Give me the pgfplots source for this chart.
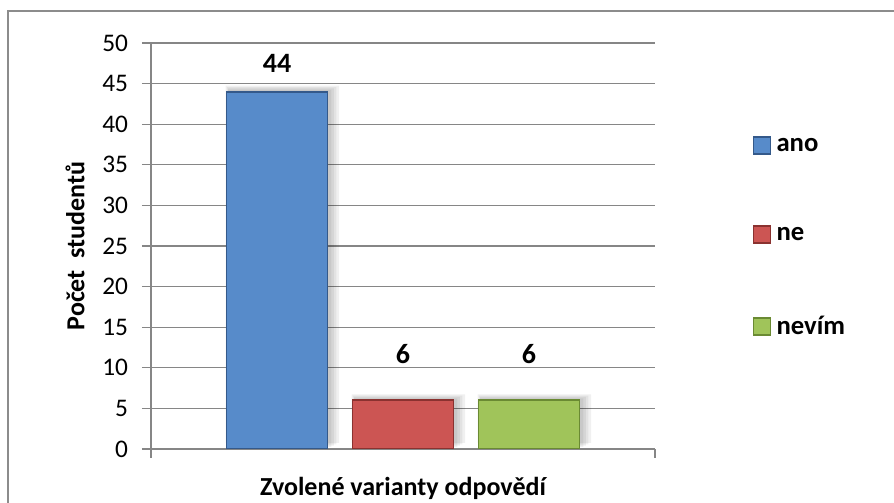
\documentclass[border=0pt]{standalone}
\usepackage{pgfplots}
\pgfplotsset{compat=1.18}
\usepackage{fontspec}
\setmainfont{Carlito}
\definecolor{gridgray}{HTML}{868686}
\definecolor{frameg}{HTML}{8C8C8C}
\definecolor{cblue}{HTML}{578BCA}
\definecolor{dblue}{HTML}{34598A}
\definecolor{cred}{HTML}{CC5553}
\definecolor{dred}{HTML}{8A3230}
\definecolor{cgreen}{HTML}{A0C45A}
\definecolor{dgreen}{HTML}{6A8A33}
\pgfplotsset{
  shadowbar/.style={forget plot, fill=black, draw=none, fill opacity=0.06},
}
\begin{document}
\begin{tikzpicture}
\useasboundingbox (0,0) rectangle (670.5pt,377.25pt);
\draw[frameg, line width=1pt] (6pt,-5pt) -- (6pt,369pt) -- (680pt,369pt);
\begin{axis}[
  at={(113.25pt,40.5pt)}, anchor=south west,
  scale only axis, width=378pt, height=304.5pt,
  xmin=0, xmax=4, ymin=0, ymax=50,
  ytick={0,5,...,50},
  xtick={0,4}, xticklabels={},
  ymajorgrids, grid style={gridgray, line width=0.8pt},
  axis line style={gridgray, line width=0.8pt},
  tick style={gridgray, line width=0.8pt},
  tick align=outside, major tick length=6.75pt,
  axis x line*=bottom, axis y line*=left,
  /pgf/number format/assume math mode=true,
  tick label style={font=\fontsize{19}{22}\selectfont, text=black},
  yticklabel style={xshift=-7pt},
  xlabel={Zvolené varianty odpovědí},
  ylabel={Počet\ \ studentů},
  every axis x label/.style={at={(axis description cs:0.5,-0.096)}, anchor=center, font=\bfseries\fontsize{19.5}{22}\selectfont},
  every axis y label/.style={at={(axis description cs:-0.1508,0.5)}, rotate=90, anchor=center, font=\bfseries\fontsize{19.5}{22}\selectfont},
  ybar, bar width=0.8, bar shift=0pt,
  legend style={draw=none, fill=none, at={(axis description cs:1,0.5)}, anchor=west, xshift=70pt, yshift=6.5pt,
     font=\bfseries\fontsize{20}{23}\selectfont, row sep=51.5pt, legend cell align=left,
     nodes={inner xsep=4pt}},
  legend image code/.code={\fill[#1] (0pt,-6.25pt) rectangle (12.75pt,6.5pt);},
  every node near coord/.append style={font=\bfseries\fontsize{21}{24}\selectfont, text=black, anchor=center},
]
% soft shadows
\addplot[shadowbar, bar width=0.90, bar shift=4pt, transform canvas={yshift=4.5pt}] coordinates {(1,44) (2,6) (3,6)};
\addplot[shadowbar, bar width=0.87, bar shift=3.5pt, transform canvas={yshift=3.5pt}] coordinates {(1,44) (2,6) (3,6)};
\addplot[shadowbar, bar width=0.84, bar shift=3pt, transform canvas={yshift=2.5pt}] coordinates {(1,44) (2,6) (3,6)};
\addplot[shadowbar, bar width=0.82, bar shift=2pt, transform canvas={yshift=1.5pt}] coordinates {(1,44) (2,6) (3,6)};
\addplot[fill=cblue, draw=dblue, line width=1.2pt, nodes near coords,
  nodes near coords style={yshift=21pt}] coordinates {(1,44)};
\addlegendentry{ano}
\addplot[fill=cred, draw=dred, line width=1.2pt, nodes near coords,
  nodes near coords style={yshift=34.5pt}] coordinates {(2,6)};
\addlegendentry{ne}
\addplot[fill=cgreen, draw=dgreen, line width=1.2pt, nodes near coords,
  nodes near coords style={yshift=34.5pt}] coordinates {(3,6)};
\addlegendentry{nevím}
\end{axis}
\end{tikzpicture}
\end{document}
